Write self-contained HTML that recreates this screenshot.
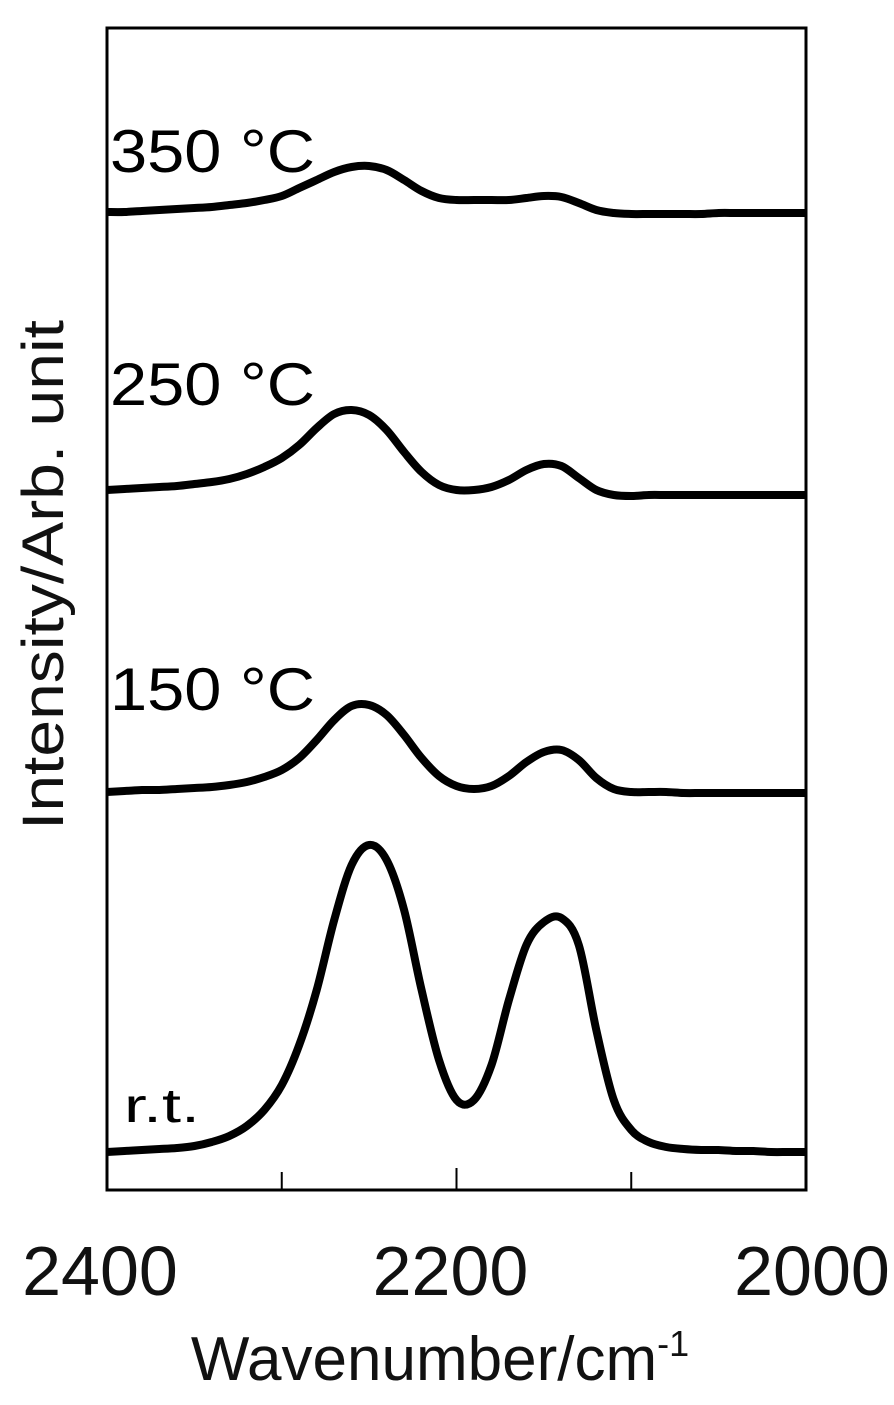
<!DOCTYPE html>
<html><head><meta charset="utf-8"><style>
html,body{margin:0;padding:0;background:#fff;}
svg{display:block;font-family:"Liberation Sans",Arial,sans-serif;}
</style></head><body>
<svg id="chart" width="894" height="1405" viewBox="0 0 894 1405">
<g id="marks"></g>
<rect x="107" y="28" width="699" height="1162" fill="none" stroke="#000" stroke-width="3"/>
<g id="xticks"></g>
<text x="440" y="1380" font-size="62" text-anchor="middle" fill="#111">Wavenumber/cm<tspan dy="-24" font-size="36">-1</tspan></text>
<text transform="translate(63,575) rotate(-90)" font-size="58" text-anchor="middle" textLength="510" lengthAdjust="spacingAndGlyphs" fill="#111">Intensity/Arb. unit</text>
</svg>
<script>
const wavenumbers = [2400,2390,2380,2370,2360,2350,2340,2330,2320,2310,2300,2290,2280,2270,2260,2250,2240,2230,2220,2210,2200,2190,2180,2170,2160,2150,2140,2130,2120,2110,2100,2090,2080,2070,2060,2050,2040,2030,2020,2010,2000];
const seriesNames = ["r.t.","150 °C","250 °C","350 °C"];
const rtValues = [38,39,40,41,42,44,48,54,64,80,105,145,200,270,325,345,330,280,200,130,90,90,125,190,245,268,272,245,160,90,60,48,43,41,40,40,39,39,38,38,38];
const t150Values = [398,399,400,400,401,402,403,405,408,413,420,432,450,470,484,485,475,455,432,414,404,401,404,414,428,438,440,430,412,401,398,398,398,397,397,397,397,397,397,397,397];
const t250Values = [700,701,702,703,704,706,708,711,716,723,732,745,762,776,780,775,760,738,718,705,700,700,703,710,720,726,724,712,700,695,694,695,695,695,695,695,695,695,695,695,695];
const t350Values = [978,978,979,980,981,982,983,985,987,990,994,1002,1010,1018,1023,1024,1020,1010,999,992,990,990,990,990,992,994,993,987,980,977,976,976,976,976,976,977,977,977,977,977,977];
const xTickValues = [2400,2300,2200,2100,2000];
const xTickLabels = ["2400","","2200","","2000"];

const NS="http://www.w3.org/2000/svg";
function xScale(w){return 107+(2400-w)/400*699;}
function yScale(v){return 1190-v*(1162/1162);}

function smoothPath(xs,ys){
  const p=xs.map((x,i)=>[xScale(x),yScale(ys[i])]);
  let d="M"+p[0][0].toFixed(1)+","+p[0][1].toFixed(1);
  for(let i=0;i<p.length-1;i++){
    const p0=p[i-1]||p[i],p1=p[i],p2=p[i+1],p3=p[i+2]||p[i+1];
    const c1=[p1[0]+(p2[0]-p0[0])/6,p1[1]+(p2[1]-p0[1])/6];
    const c2=[p2[0]-(p3[0]-p1[0])/6,p2[1]-(p3[1]-p1[1])/6];
    d+=" C"+c1.map(v=>v.toFixed(1)).join(",")+" "+c2.map(v=>v.toFixed(1)).join(",")+" "+p2.map(v=>v.toFixed(1)).join(",");
  }
  return d;
}
const marks=document.getElementById("marks");
const allSeries=[rtValues,t150Values,t250Values,t350Values];
const seriesKeys=["rt","150c","250c","350c"];
const labelLift=[30,82,85,40];
allSeries.forEach((vals,i)=>{
  const path=document.createElementNS(NS,"path");
  path.setAttribute("d",smoothPath(wavenumbers,vals));
  path.setAttribute("fill","none");
  path.setAttribute("stroke","#000");
  path.setAttribute("stroke-width","8");
  path.setAttribute("stroke-linejoin","round");
  
  
  marks.appendChild(path);
  const t=document.createElementNS(NS,"text");
  const lv=vals[0];
  const isRT=i===0;
  t.setAttribute("x",isRT?124:110);
  t.setAttribute("y",yScale(lv)-labelLift[i]);
  t.setAttribute("font-size",isRT?"48":"60");
  t.setAttribute("textLength",isRT?"76":"205");
  t.setAttribute("lengthAdjust","spacingAndGlyphs");
  t.setAttribute("fill","#000");
  t.textContent=seriesNames[i];
  
  
  marks.appendChild(t);
});
const xt=document.getElementById("xticks");
xTickValues.forEach((w,i)=>{
  const x=xScale(w);
  if(i>0&&i<xTickValues.length-1){
    const l=document.createElementNS(NS,"line");
    l.setAttribute("x1",x);l.setAttribute("x2",x);
    l.setAttribute("y1",1190);l.setAttribute("y2",w===2200?1168:1172);
    l.setAttribute("stroke","#000");l.setAttribute("stroke-width","2");
    
    
    xt.appendChild(l);
  }
  if(xTickLabels[i]){
    const t=document.createElementNS(NS,"text");
    t.setAttribute("x",i===0?100:(i===xTickValues.length-1?812:x-6));
    t.setAttribute("y",1295);
    t.setAttribute("font-size","70");
    t.setAttribute("text-anchor","middle");
    t.setAttribute("fill","#111");
    t.textContent=xTickLabels[i];
    
    
    xt.appendChild(t);
  }
});
</script>
</body></html>
